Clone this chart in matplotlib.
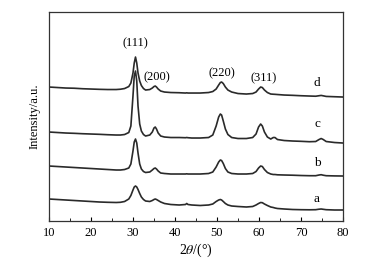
import matplotlib
matplotlib.use("Agg")
import matplotlib.pyplot as plt
from matplotlib.ticker import MultipleLocator

plt.rcParams['font.family'] = ['Liberation Serif', 'DejaVu Serif']
plt.rcParams['mathtext.fontset'] = 'stix'

# 2theta sample points (degrees)
two_theta = [10, 12, 14, 16, 18, 20, 22, 24, 26, 27, 28, 29, 29.5, 30, 30.3, 30.6, 30.9, 31.2, 31.6, 32,
             32.5, 33, 34, 34.6, 35.0, 35.3, 35.6, 36, 36.6, 37.5, 39, 41, 42.5, 42.8, 43.1, 44, 46, 48,
             49, 49.8, 50.4, 50.8, 51.1, 51.5, 52, 52.6, 53.5, 55, 57, 58.5, 59.3, 59.9, 60.4, 60.8, 61.3,
             62, 62.8, 63.4, 63.8, 64.4, 66, 68, 70, 72, 73.5, 74.3, 74.8, 75.3, 76, 78, 80]

# intensities (a.u., offset stacked)
int_a = [22, 21.5, 21, 20.5, 20, 19.5, 19, 18.7, 18.5, 18.7, 19.5, 22, 25.5, 31, 34, 35, 34, 31.5, 27.5, 24,
         21.5, 20, 19.5, 20.5, 21.5, 22, 21.5, 20.5, 19, 17.5, 16.5, 16, 16.5, 17.5, 16.5, 16, 15.5, 16,
         17, 19.5, 21, 21.5, 21, 19.5, 17.5, 16, 15, 14.5, 14, 14.5, 16, 17.5, 18.5, 18.3, 17,
         15.5, 14, 13.5, 13, 12.5, 12, 11.5, 11.3, 11.2, 11.3, 11.8, 12, 11.7, 11.3, 11, 11]
int_b = [55, 54.5, 54, 53.5, 53, 52.5, 52, 51.5, 51, 51, 51.5, 53, 57, 70, 79, 82, 78, 68, 57, 52,
         49.5, 48.5, 49, 51, 52.5, 53, 52, 50, 48, 47.5, 47, 47, 47, 47.2, 47, 47, 47, 47.5,
         49, 54, 59, 61, 60.5, 57.5, 52.5, 49, 47.5, 47, 47, 47.5, 49.5, 53, 55, 54.5, 51.5,
         48.5, 47, 46.5, 46.5, 46.2, 46, 45.8, 45.5, 45.3, 45.3, 46, 46.3, 45.8, 45.3, 45.1, 45]
int_c = [89, 88.5, 88, 87.7, 87.3, 87, 86.7, 86.3, 86, 86, 86.5, 88.5, 95, 125, 145, 150, 140, 115, 97, 90,
         86.5, 85, 86, 89, 93, 94, 92, 88, 85, 84, 83.5, 83.5, 83.3, 83.5, 83.3, 83, 83, 83.5,
         86, 95, 104, 107, 106, 100, 92, 86.5, 83.5, 82.5, 82.5, 83.5, 87, 94, 97, 95, 89,
         84, 82, 83.5, 83.5, 81.5, 80.5, 80, 79.7, 79.3, 79.5, 81.5, 82.5, 81.5, 79.5, 78.5, 78]
int_d = [134, 133.5, 133, 132.8, 132.3, 132, 131.7, 131.5, 131.5, 131.8, 132.5, 134.5, 138, 148, 158, 164,
         158, 148, 140, 135.5, 132.5, 131, 131.5, 133, 134.5, 135, 134, 132, 130, 129, 128.5, 128.3,
         128, 128.2, 128, 128, 128, 128.5, 129.5, 132, 136, 138.5, 139, 137.5, 134, 131, 129, 127.5,
         127, 127.5, 129, 132, 134, 133.5, 131, 128.5, 127, 126.8, 126.7, 126.5, 126, 125.7, 125.3,
         125, 124.8, 125.3, 125.6, 125.2, 124.6, 124.3, 124]

series = [int_a, int_b, int_c, int_d]
curve_names = ['a', 'b', 'c', 'd']
name_y = [22, 58, 97, 138]

hkl_labels = ['(111)', '(200)', '(220)', '(311)']
hkl_x = [30.5, 35.7, 51.2, 61.0]
hkl_y = [178, 144, 148, 143]

fig = plt.figure(figsize=(3.71, 2.62), dpi=100)
ax = fig.add_axes([0.132, 0.1565, 0.7925, 0.7975])

for ys in series:
    ax.plot(two_theta, ys, color='#2a2a2a', lw=1.2)

for name, y in zip(curve_names, name_y):
    ax.text(73.8, y, name, fontsize=9.5, ha='center', va='center')

for lab, x, y in zip(hkl_labels, hkl_x, hkl_y):
    ax.text(x, y, lab, fontsize=9, ha='center', va='center')

ax.set_xlim(10, 80)
ax.set_ylim(0, 209)
ax.xaxis.set_major_locator(MultipleLocator(10))
ax.xaxis.set_minor_locator(MultipleLocator(5))
ax.tick_params(axis='x', which='both', direction='in', labelsize=9, pad=4)
ax.tick_params(axis='x', which='major', length=3)
ax.tick_params(axis='x', which='minor', length=2)
ax.set_yticks([])
for sp in ax.spines.values():
    sp.set_linewidth(0.9)
    sp.set_color('#333333')

ax.set_xlabel(r'2$\it{\theta}$/(°)', fontsize=10, labelpad=2)
ax.set_ylabel('Intensity/a.u.', fontsize=9)
ax.yaxis.set_label_coords(-0.028, 0.5)

fig.savefig('out.png', dpi=100)
